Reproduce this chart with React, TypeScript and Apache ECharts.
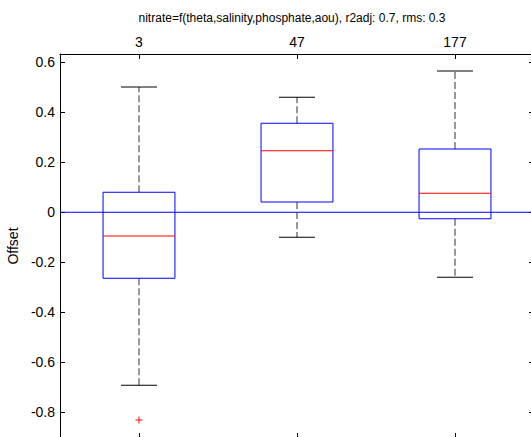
import React, { useEffect, useRef } from "react";
import * as echarts from "echarts";

const categories = ["3", "47", "177"];
const lowerWhisker = [-0.692, -0.1, -0.26];
const q1 = [-0.264, 0.041, -0.026];
const median = [-0.095, 0.246, 0.076];
const q3 = [0.08, 0.356, 0.253];
const upperWhisker = [0.501, 0.46, 0.565];
const outliers: [number, number][] = [[0, -0.831]];
const yTicks = [-0.8, -0.6, -0.4, -0.2, 0, 0.2, 0.4, 0.6];
const referenceLine = [0];
const titleText = "nitrate=f(theta,salinity,phosphate,aou), r2adj: 0.7, rms: 0.3";

const FONT = "Liberation Sans, Arial, Helvetica, sans-serif";

export default function App() {
  const ref = useRef<HTMLDivElement>(null);
  useEffect(() => {
    if (!ref.current) return;
    const chart = echarts.init(ref.current, undefined, { renderer: "svg" });
    const boxData = categories.map((_, i) => [
      i,
      lowerWhisker[i],
      q1[i],
      median[i],
      q3[i],
      upperWhisker[i],
    ]);
    const medianData = categories.map((_, i) => [i, median[i]]);
    const catAxisBase = {
      type: "category",
      data: categories,
      boundaryGap: true,
      axisLine: { show: true, onZero: false, lineStyle: { color: "#000", width: 1 } },
      axisTick: {
        show: true,
        inside: true,
        alignWithLabel: true,
        length: 5,
        lineStyle: { color: "#000", width: 1 },
      },
      splitLine: { show: false },
    };
    const valAxisBase = {
      type: "value",
      min: -0.903,
      max: 0.633,
      axisLine: { show: true, onZero: false, lineStyle: { color: "#000", width: 1 } },
      axisTick: {
        show: true,
        inside: true,
        length: 5,
        customValues: yTicks,
        lineStyle: { color: "#000", width: 1 },
      },
      splitLine: { show: false },
    };
    chart.setOption({
      animation: false,
      backgroundColor: "#fff",
      grid: {
        left: 60,
        top: 54,
        width: 474,
        height: 384,
        outerBoundsMode: "none",
      },
      graphic: [
        {
          type: "text",
          x: 292,
          y: 18,
          style: {
            text: titleText,
            fill: "#000",
            font: `12px ${FONT}`,
            textAlign: "center",
            textVerticalAlign: "middle",
          },
        },
      ],
      xAxis: [
        {
          ...catAxisBase,
          position: "top",
          axisLabel: {
            show: true,
            color: "#000",
            fontSize: 14,
            fontFamily: FONT,
            margin: 5,
          },
        },
        {
          ...catAxisBase,
          position: "bottom",
          axisLabel: { show: false },
        },
      ],
      yAxis: [
        {
          ...valAxisBase,
          position: "left",
          name: "Offset",
          nameLocation: "middle",
          nameGap: 35,
          nameTextStyle: { color: "#000", fontSize: 14, fontFamily: FONT },
          axisLabel: {
            color: "#000",
            fontSize: 14,
            fontFamily: FONT,
            margin: 5,
            customValues: yTicks,
            formatter: (v: number) => String(Math.round(v * 10) / 10),
          },
        },
        {
          ...valAxisBase,
          position: "right",
          axisLabel: { show: false },
        },
      ],
      series: [
        {
          type: "custom",
          xAxisIndex: 0,
          yAxisIndex: 0,
          data: referenceLine.map((v) => [0, v]),
          encode: { x: 0, y: 1 },
          renderItem: (params: any, api: any) => {
            const cs = params.coordSys;
            const y = api.coord([0, api.value(1)])[1];
            return {
              type: "line",
              shape: { x1: cs.x, y1: y, x2: cs.x + cs.width, y2: y },
              style: { stroke: "#0000ff", lineWidth: 1 },
            };
          },
          z: 2,
        },
        {
          type: "custom",
          xAxisIndex: 0,
          yAxisIndex: 0,
          data: boxData,
          encode: { x: 0, y: [1, 2, 3, 4, 5] },
          renderItem: (params: any, api: any) => {
            const i = api.value(0);
            const pLo = api.coord([i, api.value(1)]);
            const pQ1 = api.coord([i, api.value(2)]);
            const pQ3 = api.coord([i, api.value(4)]);
            const pHi = api.coord([i, api.value(5)]);
            const band = api.size([1, 0])[0];
            const bw = band * 0.455;
            const cw = bw / 2;
            const cx = pQ1[0];
            return {
              type: "group",
              children: [
                {
                  type: "line",
                  shape: { x1: cx, y1: pQ3[1], x2: cx, y2: pHi[1] },
                  style: { stroke: "#333", lineWidth: 1, lineDash: [7, 3] },
                },
                {
                  type: "line",
                  shape: { x1: cx, y1: pQ1[1], x2: cx, y2: pLo[1] },
                  style: { stroke: "#333", lineWidth: 1, lineDash: [7, 3] },
                },
                {
                  type: "line",
                  shape: { x1: cx - cw / 2, y1: pHi[1], x2: cx + cw / 2, y2: pHi[1] },
                  style: { stroke: "#000", lineWidth: 1 },
                },
                {
                  type: "line",
                  shape: { x1: cx - cw / 2, y1: pLo[1], x2: cx + cw / 2, y2: pLo[1] },
                  style: { stroke: "#000", lineWidth: 1 },
                },
                {
                  type: "rect",
                  shape: {
                    x: cx - bw / 2,
                    y: pQ3[1],
                    width: bw,
                    height: pQ1[1] - pQ3[1],
                  },
                  style: { stroke: "#0000ff", fill: "none", lineWidth: 1 },
                },
              ],
            };
          },
          z: 3,
        },
        {
          type: "custom",
          xAxisIndex: 0,
          yAxisIndex: 0,
          data: medianData,
          encode: { x: 0, y: 1 },
          renderItem: (params: any, api: any) => {
            const p = api.coord([api.value(0), api.value(1)]);
            const bw = api.size([1, 0])[0] * 0.455;
            return {
              type: "line",
              shape: { x1: p[0] - bw / 2, y1: p[1], x2: p[0] + bw / 2, y2: p[1] },
              style: { stroke: "#ff0000", lineWidth: 1 },
            };
          },
          z: 5,
        },
        {
          type: "custom",
          xAxisIndex: 0,
          yAxisIndex: 0,
          data: outliers,
          encode: { x: 0, y: 1 },
          renderItem: (params: any, api: any) => {
            const p = api.coord([api.value(0), api.value(1)]);
            const h = 3.5;
            return {
              type: "group",
              children: [
                {
                  type: "line",
                  shape: { x1: p[0] - h, y1: p[1], x2: p[0] + h, y2: p[1] },
                  style: { stroke: "#ff0000", lineWidth: 1 },
                },
                {
                  type: "line",
                  shape: { x1: p[0], y1: p[1] - h, x2: p[0], y2: p[1] + h },
                  style: { stroke: "#ff0000", lineWidth: 1 },
                },
              ],
            };
          },
          z: 4,
        },
      ],
    });
    return () => chart.dispose();
  }, []);
  return (
    <div
      ref={ref}
      style={{ position: "fixed", left: 0, top: 0, width: 531, height: 437 }}
    />
  );
}
